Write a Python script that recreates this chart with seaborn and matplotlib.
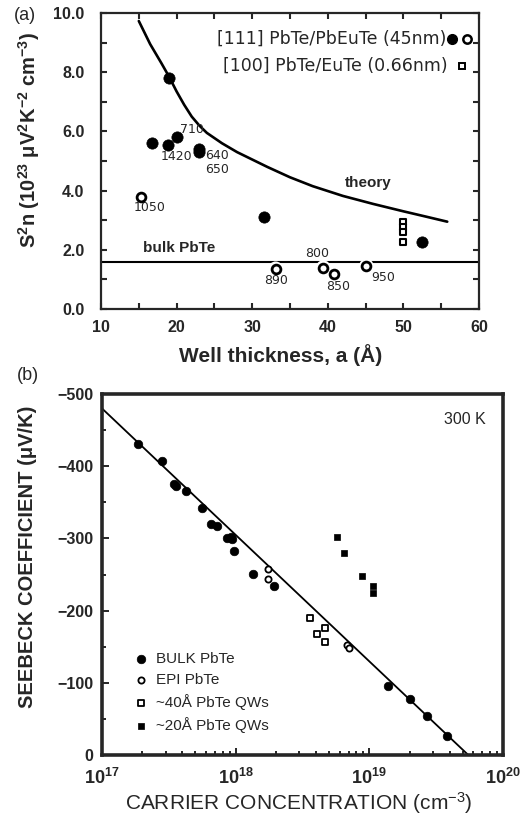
import numpy as np
import pandas as pd
import matplotlib
matplotlib.use("Agg")
import matplotlib.pyplot as plt
from matplotlib.ticker import (MultipleLocator, LogLocator, NullFormatter,
                               FuncFormatter, FormatStrFormatter)
from matplotlib.lines import Line2D
import seaborn as sns

# ---------------- (a) S^2 n versus well thickness ----------------
filled_a_x = [19.0, 16.8, 18.9, 20.0, 23.0, 23.0, 31.6, 52.4]
filled_a_y = [7.8, 5.6, 5.55, 5.8, 5.4, 5.3, 3.1, 2.25]

open_a_x = [15.3, 33.1, 39.4, 40.8, 45.1]
open_a_y = [3.8, 1.36, 1.4, 1.19, 1.45]
open_a_labels = ["1050", "890", "800", "850", "950"]
open_a_label_x = [16.4, 33.2, 38.6, 41.3, 47.3]
open_a_label_y = [3.42, 0.95, 1.86, 0.75, 1.08]

filled_a_labels = ["710", "1420", "640", "650"]
filled_a_label_x = [22.0, 20.0, 25.3, 25.3]
filled_a_label_y = [6.07, 5.15, 5.19, 4.71]

square_a_x = [50.0, 50.0, 50.0, 50.0]
square_a_y = [2.95, 2.78, 2.6, 2.25]

theory_x = [15.0, 16.5, 18.0, 19.0, 20.0, 21.0, 22.0, 23.0, 24.0, 26.0, 28.0,
            30.0, 32.0, 35.0, 38.0, 42.0, 46.0, 50.0, 53.0, 55.8]
theory_y = [9.73, 8.95, 8.3, 7.85, 7.35, 6.9, 6.5, 6.2, 5.95, 5.6, 5.3,
            5.05, 4.8, 4.45, 4.15, 3.82, 3.55, 3.3, 3.12, 2.95]

bulk_pbte_level = 1.6

# ---------------- (b) Seebeck coefficient versus carrier density ----------------
bulk_n = [1.86e17, 2.81e17, 3.46e17, 3.57e17, 4.25e17, 5.6e17, 6.5e17, 7.25e17,
          8.6e17, 9.2e17, 9.4e17, 9.7e17, 1.35e18, 1.93e18, 1.38e19, 2.0e19,
          2.7e19, 3.8e19]
bulk_S = [-431, -407, -376, -372, -366, -342, -320, -317, -300, -302, -299,
          -283, -251, -234, -96, -78, -54, -26]

epi_n = [1.74e18, 1.74e18, 6.8e18, 7.1e18]
epi_S = [-258, -244, -152, -148]

qw40_n = [3.6e18, 4.05e18, 4.65e18, 4.65e18]
qw40_S = [-190, -167, -176, -157]

qw20_n = [5.7e18, 6.46e18, 8.8e18, 1.06e19, 1.06e19]
qw20_S = [-302, -280, -248, -234, -224]

fit_n = [1e17, 5.5e19]
fit_S = [-480, 0]

# ---------------- styling ----------------
sns.set_style("ticks")
plt.rcParams["font.family"] = ["Liberation Sans", "DejaVu Sans"]
plt.rcParams["mathtext.default"] = "regular"
plt.rcParams["mathtext.fontset"] = "custom"
plt.rcParams["mathtext.rm"] = "Liberation Sans"
plt.rcParams["mathtext.bf"] = "Liberation Sans:bold"
plt.rcParams["axes.unicode_minus"] = True

fig = plt.figure(figsize=(5.31, 8.18), dpi=100)
W, H = 531.0, 818.0

axA = fig.add_axes([101 / W, 1 - 309 / H, (479 - 101) / W, (309 - 13) / H])
axB = fig.add_axes([102 / W, 1 - 755 / H, (503 - 102) / W, (755 - 394) / H])

# ---- panel (a) ----
sns.lineplot(x=theory_x, y=theory_y, ax=axA, color="black", lw=1.9, sort=False)
axA.axhline(bulk_pbte_level, color="black", lw=1.5, zorder=1)

sns.scatterplot(x=filled_a_x, y=filled_a_y, ax=axA, color="black", s=66,
                marker="o", edgecolor="black", linewidth=0.5, zorder=4)
# white halo so the open rings sit cleanly on the bulk line
sns.scatterplot(x=open_a_x, y=open_a_y, ax=axA, color="white", s=110,
                marker="o", edgecolor="none", linewidth=0, zorder=3)
sns.scatterplot(x=open_a_x, y=open_a_y, ax=axA, color="white", s=40,
                marker="o", edgecolor="black", linewidth=2.0, zorder=4)
sns.scatterplot(x=square_a_x, y=square_a_y, ax=axA, color="white", s=22,
                marker="s", edgecolor="black", linewidth=1.5, zorder=4)

for t, x, y in zip(open_a_labels, open_a_label_x, open_a_label_y):
    axA.text(x, y, t, ha="center", va="center", fontsize=9, family="DejaVu Sans")
for t, x, y in zip(filled_a_labels, filled_a_label_x, filled_a_label_y):
    axA.text(x, y, t, ha="center", va="center", fontsize=9, family="DejaVu Sans")

axA.text(45.3, 4.27, "theory", ha="center", va="center", fontsize=11, fontweight="bold")
axA.text(20.3, 2.07, "bulk PbTe", ha="center", va="center", fontsize=11, fontweight="bold")

# key in the upper right corner
axA.text(0.915, 0.912, "[111] PbTe/PbEuTe (45nm)", transform=axA.transAxes,
         ha="right", va="center", fontsize=12.5, family="DejaVu Sans")
axA.text(0.918, 0.821, "[100] PbTe/EuTe (0.66nm)", transform=axA.transAxes,
         ha="right", va="center", fontsize=12.5, family="DejaVu Sans")
axA.add_line(Line2D([0.929], [0.912], transform=axA.transAxes, marker="o", ms=7,
                    mfc="black", mec="black", ls="none"))
axA.add_line(Line2D([0.968], [0.912], transform=axA.transAxes, marker="o", ms=6,
                    mfc="white", mec="black", mew=1.8, ls="none"))
axA.add_line(Line2D([0.955], [0.821], transform=axA.transAxes, marker="s", ms=4.5,
                    mfc="white", mec="black", mew=1.4, ls="none"))

axA.set_xlim(10, 60)
axA.set_ylim(0, 10)
axA.xaxis.set_major_locator(MultipleLocator(10))
axA.xaxis.set_minor_locator(MultipleLocator(5))
axA.yaxis.set_major_locator(MultipleLocator(2))
axA.yaxis.set_minor_locator(MultipleLocator(1))
axA.yaxis.set_major_formatter(FormatStrFormatter("%.1f"))
axA.tick_params(which="both", direction="in", top=True, right=True, width=1.5)
axA.tick_params(which="major", length=4)
axA.tick_params(which="minor", length=4)
axA.tick_params(axis="y", pad=12, labelsize=11.5)
axA.tick_params(axis="x", pad=8, labelsize=11.5)
for lab in axA.get_xticklabels() + axA.get_yticklabels():
    lab.set_fontweight("bold")
for sp in axA.spines.values():
    sp.set_linewidth(1.6)

axA.set_xlabel("Well thickness, a (Å)", fontsize=15, fontweight="bold")
axA.set_ylabel("S$^2$n (10$^{23}$ μV$^2$K$^{-2}$ cm$^{-3}$)", fontsize=14.5, fontweight="bold")
axA.xaxis.set_label_coords(0.474, -0.118)
axA.yaxis.set_label_coords(-0.156, 0.57)

# ---- panel (b) ----
sns.lineplot(x=fit_n, y=fit_S, ax=axB, color="black", lw=1.3, zorder=2)
sns.scatterplot(x=bulk_n, y=bulk_S, ax=axB, color="black", marker="o", s=38,
                edgecolor="black", linewidth=0.5, label="BULK PbTe", zorder=3)
sns.scatterplot(x=epi_n, y=epi_S, ax=axB, color="white", marker="o", s=20,
                edgecolor="black", linewidth=1.3, label="EPI PbTe", zorder=3)
sns.scatterplot(x=qw40_n, y=qw40_S, ax=axB, color="white", marker="s", s=24,
                edgecolor="black", linewidth=1.3, label="~40Å PbTe QWs", zorder=3)
sns.scatterplot(x=qw20_n, y=qw20_S, ax=axB, color="black", marker="s", s=24,
                edgecolor="black", linewidth=0.5, label="~20Å PbTe QWs", zorder=3)

axB.set_xscale("log")
axB.set_xlim(1e17, 1e20)
axB.set_ylim(0, -500)
axB.yaxis.set_major_locator(MultipleLocator(100))
axB.yaxis.set_minor_locator(MultipleLocator(50))
axB.xaxis.set_major_locator(LogLocator(base=10, numticks=10))
axB.xaxis.set_major_formatter(
    FuncFormatter(lambda v, pos: r"$\mathbf{10^{%d}}$" % int(round(np.log10(v)))))
axB.xaxis.set_minor_locator(LogLocator(base=10, subs=np.arange(2, 10), numticks=20))
axB.xaxis.set_minor_formatter(NullFormatter())
axB.tick_params(which="both", direction="in", top=False, right=False, width=1.4)
axB.tick_params(which="major", length=5)
axB.tick_params(which="minor", length=3)
axB.tick_params(axis="y", pad=6, labelsize=11.5)
axB.tick_params(axis="x", pad=9, labelsize=13)
for lab in axB.get_yticklabels():
    lab.set_fontweight("bold")
for sp in axB.spines.values():
    sp.set_linewidth(2.6)

axB.text(0.905, 0.928, "300 K", transform=axB.transAxes, ha="center", va="center",
         fontsize=11.5)

leg = axB.legend(loc="upper left", bbox_to_anchor=(0.077, 0.285), frameon=False,
                 fontsize=11, handlelength=1.0, handletextpad=0.5, labelspacing=0.45,
                 borderpad=0, borderaxespad=0)

axB.set_xlabel("CARRIER CONCENTRATION (cm$^{-3}$)", fontsize=15)
axB.set_ylabel("SEEBECK COEFFICIENT (μV/K)", fontsize=14.5, fontweight="bold")
axB.xaxis.set_label_coords(0.49, -0.097)
axB.yaxis.set_label_coords(-0.162, 0.548)

fig.text(25 / W, 1 - 15 / H, "(a)", ha="center", va="center", fontsize=13)
fig.text(28 / W, 1 - 375 / H, "(b)", ha="center", va="center", fontsize=13)

fig.savefig("out.png", dpi=100)
